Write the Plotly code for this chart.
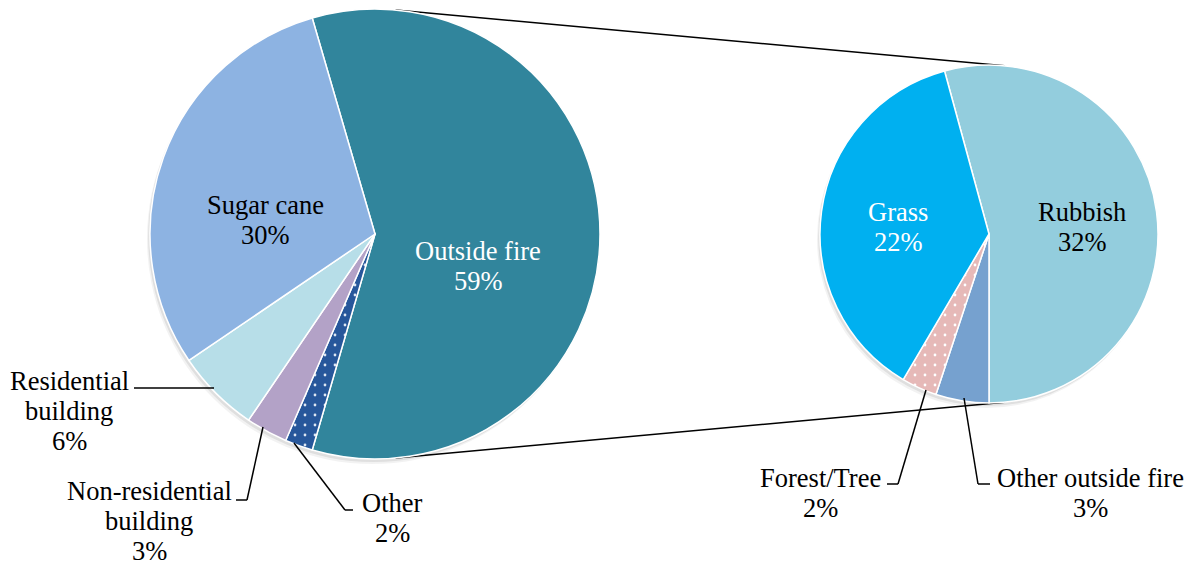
import math
import plotly.graph_objects as go

# ---------------- data ----------------
main_labels = ["Outside fire", "Other", "Non-residential building", "Residential building", "Sugar cane"]
main_values = [59, 2, 3, 6, 30]
main_colors = ["#31859C", "#27579B", "#B3A2C7", "#B7DEE8", "#8DB3E2"]
main_pattern = ["", ".", "", "", ""]

sub_labels = ["Rubbish", "Other outside fire", "Forest/Tree", "Grass"]
sub_values = [32, 3, 2, 22]
sub_colors = ["#93CDDD", "#76A1CF", "#E6B9B8", "#00B0F0"]
sub_pattern = ["", "", ".", ""]

# ---------------- geometry (pixels) ----------------
W, H = 1193, 565
C1 = (375, 234); R1 = 225
C2 = (989, 234); R2 = 169


def px(x):
    return x / W


def py(y):
    return 1 - y / H


def domain(c, r, dx=0, dy=0):
    return dict(x=[px(c[0] - r + dx), px(c[0] + r + dx)],
                y=[py(c[1] + r + dy), py(c[1] - r + dy)])


fig = go.Figure()

# soft shadows
for c, r in ((C1, R1), (C2, R2)):
    for off, a in ((5, 0.05), (3, 0.08)):
        fig.add_trace(go.Pie(values=[1], marker=dict(colors=[f"rgba(0,0,0,{a})"]),
                             domain=domain(c, r, -off * 0.6, off), textinfo="none",
                             hoverinfo="skip", showlegend=False, sort=False))

total_main = sum(main_values)
other_share = main_values[0] / total_main
rot_main = 90 - other_share * 360 / 2
fig.add_trace(go.Pie(
    labels=main_labels, values=main_values, sort=False, direction="clockwise",
    rotation=rot_main, domain=domain(C1, R1), textinfo="none", showlegend=False,
    marker=dict(colors=main_colors, line=dict(color="white", width=1.5),
                pattern=dict(shape=main_pattern, fgcolor="#DDE6F2", bgcolor=main_colors,
                             size=10, solidity=0.06)),
))

sub_total = sum(sub_values)
rot_sub = 180 - sub_values[0] / sub_total * 360
fig.add_trace(go.Pie(
    labels=sub_labels, values=sub_values, sort=False, direction="clockwise",
    rotation=rot_sub, domain=domain(C2, R2), textinfo="none", showlegend=False,
    marker=dict(colors=sub_colors, line=dict(color="white", width=1.5),
                pattern=dict(shape=sub_pattern, fgcolor="white", bgcolor=sub_colors,
                             size=10, solidity=0.06)),
))

# connector lines: external tangents of the two circles
d = C2[0] - C1[0]
th = math.asin((R1 - R2) / d)
shapes = []
for sgn in (-1, 1):
    p1 = (C1[0] + R1 * math.sin(th), C1[1] + sgn * R1 * math.cos(th))
    p2 = (C2[0] + R2 * math.sin(th), C2[1] + sgn * R2 * math.cos(th))
    shapes.append(dict(type="line", xref="paper", yref="paper",
                       x0=px(p1[0]), y0=py(p1[1]), x1=px(p2[0]), y1=py(p2[1]),
                       line=dict(color="black", width=1.5), layer="below"))

# leader lines (pixel paths)
leaders = [
    [(134, 388), (214, 388)],
    [(236, 500), (247, 500), (263, 427)],
    [(294, 443), (345, 510), (353, 510)],
    [(887, 484), (898, 484), (926, 390)],
    [(964, 398), (978, 484), (990, 484)],
]
for path in leaders:
    for (x0, y0), (x1, y1) in zip(path[:-1], path[1:]):
        shapes.append(dict(type="line", xref="paper", yref="paper",
                           x0=px(x0), y0=py(y0), x1=px(x1), y1=py(y1),
                           line=dict(color="black", width=1.5)))

# label placement: center x px, first line y px, color, text lines
FS = 26.5
LH = 30
label_pos = {
    "Sugar cane": (265, 205, "black", ["Sugar cane"]),
    "Outside fire": (478, 251, "white", ["Outside fire"]),
    "Residential building": (69, 381, "black", ["Residential", "building"]),
    "Non-residential building": (149, 491, "black", ["Non-residential", "building"]),
    "Other": (392, 503, "black", ["Other"]),
    "Rubbish": (1082, 212, "black", ["Rubbish"]),
    "Grass": (898, 212, "white", ["Grass"]),
    "Forest/Tree": (820, 478, "black", ["Forest/Tree"]),
    "Other outside fire": (1090, 478, "black", ["Other outside fire"]),
}
annotations = []
for labs, vals in ((main_labels, main_values), (sub_labels, sub_values)):
    for lab, v in zip(labs, vals):
        x, y, col, lines = label_pos[lab]
        for i, t in enumerate(lines + [f"{v}%"]):
            annotations.append(dict(text=t, x=px(x), y=py(y + i * LH), xref="paper", yref="paper",
                                    xanchor="center", yanchor="middle", showarrow=False,
                                    font=dict(family="Liberation Serif", size=FS, color=col)))

fig.update_layout(width=W, height=H, margin=dict(l=0, r=0, t=0, b=0),
                  paper_bgcolor="white", plot_bgcolor="white",
                  shapes=shapes, annotations=annotations)
fig.write_html("out.html", config={"displayModeBar": False},
               post_script="document.body.style.margin='0';document.body.style.overflow='hidden';")
